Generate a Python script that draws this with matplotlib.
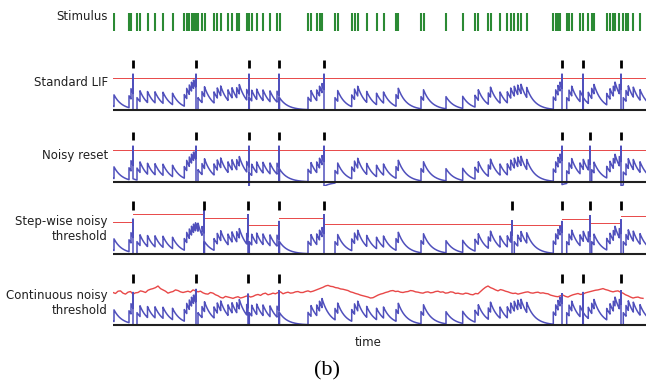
import numpy as np
import matplotlib
matplotlib.use("Agg")
import matplotlib.pyplot as plt

# ---------------- data (time axis in arbitrary units, 0..533) ----------------
stim_times = [1, 16, 18, 24, 27, 34.5, 42, 50, 59.5, 71.3, 73.7, 76.3, 78.5, 80.5,
              82.5, 85, 89, 91.5, 101, 104.3, 107.7, 115, 119, 123.7, 126.3, 133.7,
              136.3, 138.7, 143.7, 150, 157, 164, 166.5, 195, 198, 203.7, 206.5, 209,
              222, 224.7, 238.7, 241.5, 244.7, 253.7, 263.5, 270.5, 283, 285.3, 308,
              310.5, 333, 349.7, 362, 365.3, 375.3, 377.5, 387, 394.3, 397.7, 401.3,
              404.7, 408, 413.7, 440.3, 442.7, 445, 447, 453.7, 456, 458.7, 467, 470.3,
              475.3, 478.7, 481, 493.7, 497, 500.3, 502, 506.3, 510.3, 513, 515.3,
              520.3, 527]

spikes_standard = [20, 83, 136, 166, 211, 449, 470, 508]
spikes_noisy_reset = [20, 83, 136, 166, 211, 449, 477, 508]
reset_values_noisy = [0.10, 0.0, -0.13, 0.03, -0.13, -0.08, 0.0, -0.12]
spikes_stepwise = [20, 91, 135, 166, 211, 399, 449, 477, 508]
stepwise_thresholds = [0.97, 1.24, 1.11, 0.90, 1.11, 0.92, 0.90, 1.08, 0.95, 1.16]
spikes_continuous = [20, 83, 135, 166, 449, 470, 508]

# continuous noisy threshold, read every 2.5 time units from t=0 to t=530
continuous_threshold = [
    1.00, 0.97, 1.04, 1.05, 0.98, 0.95, 1.01, 1.03, 0.95, 0.99, 1.00, 1.05, 1.03,
    1.00, 1.07, 1.10, 1.12, 1.15, 1.20, 1.12, 1.08, 1.04, 0.98, 1.01, 1.03, 1.08,
    1.06, 1.02, 1.00, 1.02, 1.04, 1.01, 1.08, 1.05, 1.02, 1.04, 0.99, 0.96, 0.95,
    1.00, 0.98, 0.93, 0.90, 0.85, 0.83, 0.88, 0.86, 0.84, 0.82, 0.85, 0.87, 0.83,
    0.85, 0.88, 0.90, 0.86, 0.88, 0.92, 0.94, 0.91, 0.96, 0.98, 0.93, 0.95, 0.98,
    0.96, 1.00, 1.02, 0.96, 0.99, 1.01, 0.98, 0.99, 1.02, 1.03, 1.00, 1.00, 1.03,
    1.05, 1.02, 1.04, 1.07, 1.10, 1.13, 1.16, 1.20, 1.22, 1.19, 1.18, 1.15, 1.14,
    1.11, 1.10, 1.08, 1.06, 1.02, 1.00, 0.97, 0.95, 0.92, 0.90, 0.88, 0.86, 0.83,
    0.84, 0.88, 0.92, 0.95, 0.97, 1.00, 1.02, 1.05, 1.06, 1.03, 1.04, 1.01, 1.00,
    1.02, 1.03, 1.06, 1.05, 1.02, 1.01, 0.99, 0.98, 1.01, 1.02, 0.99, 1.00, 1.03,
    1.04, 1.01, 1.02, 0.98, 0.99, 1.02, 1.01, 0.97, 0.98, 0.96, 0.95, 0.98, 0.97,
    0.94, 0.93, 0.97, 0.96, 1.03, 1.10, 1.16, 1.20, 1.15, 1.12, 1.08, 1.05, 1.09,
    1.07, 1.04, 1.02, 0.99, 0.97, 0.98, 0.95, 0.97, 0.99, 1.01, 1.02, 0.99, 0.98,
    1.00, 1.01, 0.98, 0.99, 0.97, 0.96, 0.92, 0.90, 0.88, 0.87, 0.90, 0.92, 0.88,
    0.86, 0.90, 0.93, 0.95, 0.97, 0.94, 0.95, 0.99, 1.01, 1.03, 1.05, 1.07, 1.08,
    1.10, 1.12, 1.09, 1.07, 1.04, 1.02, 1.04, 1.05, 1.01, 0.98, 0.93, 0.90, 0.86,
    0.83, 0.85, 0.86, 0.83, 0.82]

row_labels = ["Stimulus", "Standard LIF", "Noisy reset",
              "Step-wise noisy\nthreshold", "Continuous noisy\nthreshold"]

# ---------------- model parameters ----------------
JUMP = 0.38
VMAX = 2.0
TAU = 8.0
V0 = 0.12


def simulate(stims, spikes, resets, peaks):
    events = [(t, 0, None) for t in stims] + [(t, 1, i) for i, t in enumerate(spikes)]
    events.sort(key=lambda e: (e[0], e[1]))
    ts, vs = [0.0], [V0]
    t_prev, v = 0.0, V0
    for t, kind, idx in events + [(533.0, 2, None)]:
        if t > t_prev:
            seg = np.linspace(t_prev, t, max(2, int((t - t_prev) / 0.4)))[1:]
            vals = v * np.exp(-(seg - t_prev) / TAU)
            ts.extend(seg)
            vs.extend(vals)
            v = vals[-1]
        t_prev = t
        if kind == 0:
            v = v + JUMP * (VMAX - v) / VMAX
            ts.append(t); vs.append(v)
        elif kind == 1:
            ts.append(t); vs.append(peaks[idx])
            v = resets[idx]
            ts.append(t); vs.append(v)
    return np.array(ts), np.array(vs)


# ---------------- figure ----------------
W, H = 646, 385
fig = plt.figure(figsize=(W / 100, H / 100), dpi=100)
fig.patch.set_facecolor("white")

X0, X1 = 113, 646
PX = 32.5  # pixels per threshold unit

BLUE = "#5050bc"
RED = "#e84848"
GREEN = "#2b8a34"


def panel_axes(base):
    ax = fig.add_axes([X0 / W, (H - (base + 4)) / H, (X1 - X0) / W, 64 / H])
    ax.set_xlim(0, X1 - X0)
    ax.set_ylim(-4 / PX, 60 / PX)
    ax.axis("off")
    return ax


# stimulus row
axs = fig.add_axes([X0 / W, (H - 32) / H, (X1 - X0) / W, 20 / H])
axs.set_xlim(0, X1 - X0)
axs.set_ylim(0, 1)
axs.axis("off")
axs.vlines(stim_times, 0.05, 0.95, color=GREEN, lw=1.5)

bases = [110, 182, 254, 325]
T_END = X1 - X0

# Standard LIF
ax = panel_axes(bases[0])
t, v = simulate(stim_times, spikes_standard, [0.0] * len(spikes_standard),
                [1.1] * len(spikes_standard))
ax.plot([0, T_END], [1, 1], color=RED, lw=0.7)
ax.plot(t, v, color=BLUE, lw=1.1)
ax.axhline(0, color="#202020", lw=1.5)
ax.vlines(spikes_standard, 1.28, 1.55, color="black", lw=2.0)

# Noisy reset
ax = panel_axes(bases[1])
t, v = simulate(stim_times, spikes_noisy_reset, reset_values_noisy,
                [1.1] * len(spikes_noisy_reset))
ax.plot([0, T_END], [1, 1], color=RED, lw=0.7)
ax.plot(t, v, color=BLUE, lw=1.1)
ax.axhline(0, color="#202020", lw=1.5)
ax.vlines(spikes_noisy_reset, 1.28, 1.55, color="black", lw=2.0)

# Step-wise noisy threshold
ax = panel_axes(bases[2])
edges = [0] + spikes_stepwise + [T_END]
for i, th in enumerate(stepwise_thresholds):
    ax.plot([edges[i], edges[i + 1]], [th, th], color=RED, lw=0.7)
step_peaks = [stepwise_thresholds[i] + 0.1 for i in range(len(spikes_stepwise))]
t, v = simulate(stim_times, spikes_stepwise, [0.0] * len(spikes_stepwise), step_peaks)
ax.plot(t, v, color=BLUE, lw=1.1)
ax.axhline(0, color="#202020", lw=1.5)
ax.vlines(spikes_stepwise, 1.35, 1.62, color="black", lw=2.0)

# Continuous noisy threshold
ax = panel_axes(bases[3])
th_t = np.linspace(0, 530, len(continuous_threshold))
cont_peaks = [np.interp(s, th_t, continuous_threshold) + 0.05 for s in spikes_continuous]
t, v = simulate(stim_times, spikes_continuous, [0.0] * len(spikes_continuous), cont_peaks)
ax.plot(th_t, continuous_threshold, color=RED, lw=1.0)
ax.plot(t, v, color=BLUE, lw=1.1)
ax.axhline(0, color="#202020", lw=1.5)
ax.vlines(spikes_continuous, 1.3, 1.58, color="black", lw=2.0)

# labels
label_y = [17, 83, 155, 229, 303]
for lab, y in zip(row_labels, label_y):
    fig.text(108 / W, 1 - y / H, lab, ha="right", va="center", fontsize=8.5,
             color="#202020", linespacing=1.2, family="DejaVu Sans")

fig.text(368 / W, 1 - 342 / H, "time", ha="center", va="center", fontsize=8.5,
         color="#202020", family="DejaVu Sans")
fig.text(327 / W, 1 - 371 / H, "(b)", ha="center", va="center", fontsize=16,
         family="Liberation Serif", color="black")

fig.savefig("out.png", dpi=100, facecolor="white")
